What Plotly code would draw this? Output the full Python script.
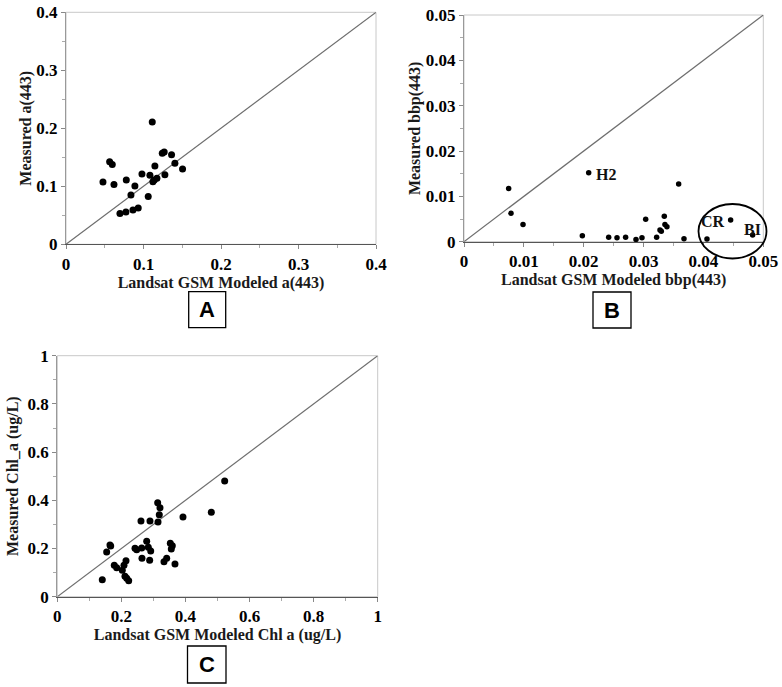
import plotly.graph_objects as go

# ---------------- data ----------------
a_modeled = [0.0477, 0.0563, 0.0597, 0.0619, 0.0696, 0.0778, 0.0773, 0.0838, 0.0864, 0.0889,
             0.0932, 0.0980, 0.1061, 0.1083, 0.1113, 0.1121, 0.1139, 0.1147, 0.1173, 0.1242,
             0.1267, 0.1276, 0.1362, 0.1405, 0.1504]
a_measured = [0.1075, 0.1425, 0.1374, 0.1029, 0.0529, 0.1109, 0.0557, 0.0851, 0.0592, 0.1006,
              0.0626, 0.1213, 0.0822, 0.1190, 0.2109, 0.1080, 0.1109, 0.1350, 0.1138, 0.1569,
              0.1592, 0.1201, 0.1546, 0.1397, 0.1299]

bbp_modeled = [0.00746, 0.00785, 0.00986, 0.01977, 0.02083, 0.02417, 0.02556, 0.02700, 0.02873,
               0.02973, 0.03035, 0.03218, 0.03274, 0.03296, 0.03346, 0.03357, 0.03390, 0.03586,
               0.03675, 0.04059, 0.04454, 0.04822]
bbp_measured = [0.01176, 0.00625, 0.00382, 0.00132, 0.01522, 0.00096, 0.00088, 0.00096, 0.00051,
                0.00088, 0.00493, 0.00096, 0.00257, 0.00228, 0.00559, 0.00382, 0.00331, 0.01272,
                0.00066, 0.00059, 0.00478, 0.00147]

# labelled stations in panel B (name, modeled, measured)
station_names = ["H2", "CR", "BI"]
station_modeled = [0.02083, 0.04454, 0.04822]
station_measured = [0.01522, 0.00478, 0.00147]

chl_modeled = [0.1404, 0.1541, 0.1644, 0.1666, 0.1778, 0.1853, 0.2028, 0.2081, 0.2144, 0.2112,
               0.2166, 0.2228, 0.2425, 0.2478, 0.2612, 0.2634, 0.2643, 0.2790, 0.2840, 0.2893,
               0.2915, 0.2883, 0.3133, 0.3205, 0.3183, 0.3143, 0.3330, 0.3414, 0.3527, 0.3589,
               0.3558, 0.3673, 0.3923, 0.4807, 0.5224]
chl_measured = [0.0704, 0.1853, 0.2144, 0.2103, 0.1302, 0.1202, 0.1094, 0.1302, 0.1493, 0.0845,
                0.0762, 0.0663, 0.2007, 0.1949, 0.3140, 0.2019, 0.1592, 0.2297, 0.2049, 0.3140,
                0.1895, 0.1509, 0.3899, 0.3692, 0.3401, 0.3098, 0.1451, 0.1592, 0.2214, 0.2115,
                0.1978, 0.1356, 0.3306, 0.3501, 0.4799]

a_ticks = [0, 0.1, 0.2, 0.3, 0.4]
a_ticktext = ["0", "0.1", "0.2", "0.3", "0.4"]
bbp_ticks = [0, 0.01, 0.02, 0.03, 0.04, 0.05]
bbp_ticktext = ["0", "0.01", "0.02", "0.03", "0.04", "0.05"]
chl_ticks = [0, 0.2, 0.4, 0.6, 0.8, 1.0]
chl_ticktext = ["0", "0.2", "0.4", "0.6", "0.8", "1"]

panel_letters = ["A", "B", "C"]

# ---------------- figure ----------------
W, H = 782, 687
SERIF = "Liberation Serif"
fig = go.Figure()

def add_panel(xs, ys, lim, n, size):
    xa = "x" if n == 1 else f"x{n}"
    ya = "y" if n == 1 else f"y{n}"
    fig.add_trace(go.Scatter(x=[0, lim], y=[0, lim], mode="lines",
                             line=dict(color="#6e6e6e", width=1.2),
                             xaxis=xa, yaxis=ya, hoverinfo="skip", showlegend=False))
    fig.add_trace(go.Scatter(x=xs, y=ys, mode="markers",
                             marker=dict(color="black", size=size),
                             cliponaxis=False,
                             xaxis=xa, yaxis=ya, showlegend=False))

add_panel(a_modeled, a_measured, a_ticks[-1], 1, 7)
add_panel(bbp_modeled, bbp_measured, bbp_ticks[-1], 2, 5.5)
add_panel(chl_modeled, chl_measured, chl_ticks[-1], 3, 7)

def px2paper_x(p):
    return p / W

def px2paper_y(p):
    return 1 - p / H

domains = {
    1: ((66, 376), (12.3, 244.3)),
    2: ((464, 763.3), (15, 241.7)),
    3: ((57.3, 377.7), (355.7, 596.7)),
}

tickfont = dict(family=SERIF, size=17, color="#000")
titlefont = dict(family=SERIF, size=16, color="#1a1a1a")

def bold(s):
    return f"<b>{s}</b>"

def axis_common(ticks, ticktext, lim, line_color):
    return dict(range=[0, lim], tickvals=ticks, ticktext=[bold(t) for t in ticktext],
                tickfont=tickfont, ticklabeloverflow="allow",
                showgrid=False, zeroline=False, showline=True, linecolor=line_color,
                linewidth=1.3, ticks="outside", ticklen=4, tickcolor="#888", tickwidth=1,
                minor=dict(ticks="outside", ticklen=3, tickcolor="#aaa",
                           dtick=(ticks[1] - ticks[0]) / 2),
                automargin=False, fixedrange=True)

xt = ["Landsat GSM Modeled a(443)", "Landsat GSM Modeled bbp(443)", "Landsat GSM Modeled Chl a (ug/L)"]
yt = ["Measured a(443)", "Measured bbp(443)", "Measured Chl_a (ug/L)"]
tick_sets = [(a_ticks, a_ticktext), (bbp_ticks, bbp_ticktext), (chl_ticks, chl_ticktext)]
x_stand = [2, 2, 2]
y_stand = [0, 1, 4]

layout = {}
for n in (1, 2, 3):
    (x0, x1), (y0, y1) = domains[n]
    ticks, tt = tick_sets[n - 1]
    lim = ticks[-1]
    xk = "xaxis" if n == 1 else f"xaxis{n}"
    yk = "yaxis" if n == 1 else f"yaxis{n}"
    xa = axis_common(ticks, tt, lim, "#555")
    xa.update(domain=[px2paper_x(x0), px2paper_x(x1)], anchor="y" if n == 1 else f"y{n}",
              title=dict(text=bold(xt[n - 1]), font=titlefont, standoff=x_stand[n - 1]))
    ya = axis_common(ticks, tt, lim, "#999")
    ya.update(domain=[px2paper_y(y1), px2paper_y(y0)], anchor="x" if n == 1 else f"x{n}",
              title=dict(text=bold(yt[n - 1]), font=titlefont, standoff=y_stand[n - 1]))
    layout[xk] = xa
    layout[yk] = ya

fig.update_layout(**layout)

shapes = []
for n in (1, 2, 3):
    xr = "x domain" if n == 1 else f"x{n} domain"
    yr = "y domain" if n == 1 else f"y{n} domain"
    shapes.append(dict(type="rect", xref=xr, yref=yr, x0=0, x1=1, y0=0, y1=1,
                       line=dict(color="#c8c8c8", width=1), layer="below"))
# circle around CR / BI in panel B
shapes.append(dict(type="circle", xref="paper", yref="paper",
                   x0=px2paper_x(698.5), x1=px2paper_x(766.5),
                   y0=px2paper_y(258.5), y1=px2paper_y(204),
                   line=dict(color="black", width=1.8)))

# letter boxes
letter_boxes = [(188.7, 291.7, 225.7, 327.7), (593, 292, 631, 328), (187.5, 646, 226, 683)]
annotations = []
for letter, (bx0, by0, bx1, by1) in zip(panel_letters, letter_boxes):
    shapes.append(dict(type="rect", xref="paper", yref="paper",
                       x0=px2paper_x(bx0), x1=px2paper_x(bx1),
                       y0=px2paper_y(by1), y1=px2paper_y(by0),
                       line=dict(color="black", width=1.3), fillcolor="white"))
    annotations.append(dict(text=bold(letter), x=px2paper_x((bx0 + bx1) / 2),
                            y=px2paper_y((by0 + by1) / 2),
                            xref="paper", yref="paper", showarrow=False,
                            xanchor="center", yanchor="middle",
                            font=dict(family="Liberation Sans", size=22, color="black")))

# station labels in panel B
label_anchor = ["left", "right", "center"]
label_dx = [5, -4, 0]
label_dy = [-2, -1, 6]
for name, mx, my, anc, dx, dy in zip(station_names, station_modeled, station_measured,
                                     label_anchor, label_dx, label_dy):
    annotations.append(dict(text=bold(name), x=mx, y=my, xref="x2", yref="y2",
                            showarrow=False, xanchor=anc, yanchor="middle",
                            xshift=dx, yshift=dy,
                            font=dict(family=SERIF, size=16, color="#111")))

fig.update_layout(width=W, height=H, margin=dict(l=0, r=0, t=0, b=0),
                  paper_bgcolor="white", plot_bgcolor="white",
                  shapes=shapes, annotations=annotations, showlegend=False)

fig.write_html("out.html", config={"displayModeBar": False},
               post_script="document.body.style.margin='0';document.body.style.overflow='hidden';")
